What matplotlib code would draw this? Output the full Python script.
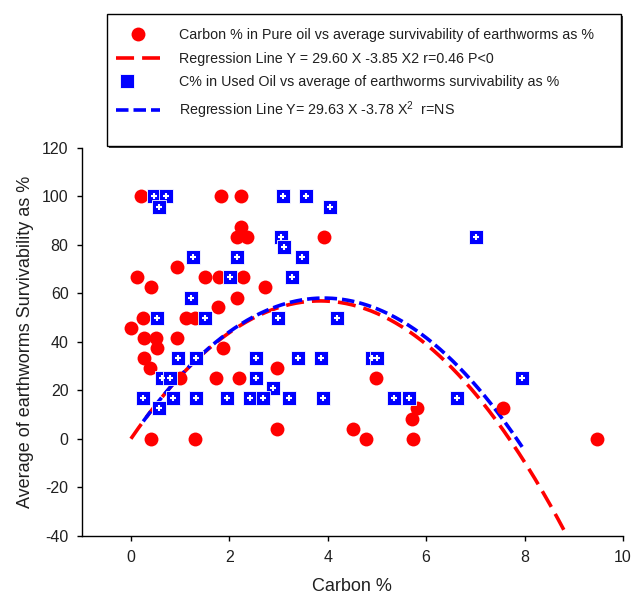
import numpy as np
import matplotlib
matplotlib.use("Agg")
import matplotlib.pyplot as plt
from matplotlib.lines import Line2D
from matplotlib.patches import Rectangle
from matplotlib.legend_handler import HandlerTuple

plt.rcParams['font.family'] = ['Liberation Sans', 'DejaVu Sans']
plt.rcParams['mathtext.fontset'] = 'custom'
plt.rcParams['mathtext.rm'] = 'Liberation Sans'
plt.rcParams['mathtext.it'] = 'Liberation Sans'
plt.rcParams['lines.scale_dashes'] = False
plt.rcParams['axes.unicode_minus'] = False

# ---- data ----
x_pure = [0.20, 1.84, 2.24, 2.23, 2.15, 2.36, 0.93, 0.13, 0.41, 1.51, 1.79, 2.27, 2.72, 2.15,
          1.77, 0.25, 1.11, 1.30, 0.00, 0.26, 0.51, 0.93, 0.53, 1.88, 0.26, 0.39, 2.96, 1.00,
          1.73, 2.20, 4.99, 0.41, 1.30, 2.96, 4.52, 4.78, 5.81, 5.71, 5.74, 7.57, 9.47, 3.92]
y_pure = [100, 100, 100, 87.5, 83.3, 83.3, 70.8, 66.7, 62.5, 66.7, 66.7, 66.7, 62.5, 58.3,
          54.2, 50, 50, 50, 45.8, 41.7, 41.7, 41.7, 37.5, 37.5, 33.3, 29.2, 29.2, 25,
          25, 25, 25, 0, 0, 4.2, 4.2, 0, 12.5, 8.3, 0, 12.5, 0, 83.3]

x_used = [0.47, 0.71, 0.57, 1.26, 2.15, 2.02, 1.23, 0.53, 1.51, 0.95, 1.32, 2.55, 0.64, 0.80,
          2.54, 2.89, 0.25, 0.86, 1.32, 1.96, 2.42, 2.68, 0.58, 3.10, 3.56, 4.04, 3.06, 3.12,
          3.47, 3.27, 2.98, 4.18, 3.39, 3.86, 4.90, 5.00, 3.22, 3.91, 5.35, 5.66, 7.01, 7.95, 6.62]
y_used = [100, 100, 95.8, 75, 75, 66.7, 58.3, 50, 50, 33.3, 33.3, 33.3, 25, 25,
          25, 20.8, 16.7, 16.7, 16.7, 16.7, 16.7, 16.7, 12.5, 100, 100, 95.8, 83.3, 79.2,
          75, 66.7, 50, 50, 33.3, 33.3, 33.3, 33.3, 16.7, 16.7, 16.7, 16.7, 83.3, 25, 16.7]

pure_coef = (29.60, -3.85)
used_coef = (29.63, -3.78)

labels = ["Carbon % in Pure oil vs average survivability of earthworms as %",
          "Regression Line Y = 29.60 X -3.85 X2 r=0.46 P<0",
          "C% in Used Oil vs average of earthworms survivability as %",
          "Regression Line Y= 29.63 X -3.78 X$^{2}$  r=NS"]

x_ticks = [0, 2, 4, 6, 8, 10]
y_ticks = [-40, -20, 0, 20, 40, 60, 80, 100, 120]

# ---- figure ----
W, H = 633, 596
fig = plt.figure(figsize=(W / 100, H / 100), dpi=100)
ax = fig.add_axes([81.7 / W, (H - 535.7) / H, (623 - 81.7) / W, (535.7 - 148) / H])

RED = '#FF0000'
BLUE = '#0000FF'
TXT = '#202020'

xr = np.linspace(min(x_pure), max(x_pure), 300)
yr = pure_coef[0] * xr + pure_coef[1] * xr ** 2
xb = np.linspace(min(x_used), max(x_used), 300)
yb = used_coef[0] * xb + used_coef[1] * xb ** 2

ax.plot(xr, yr, color=RED, lw=2.6, dashes=(13, 5.8), zorder=2)
ax.plot(xb, yb, color=BLUE, lw=2.6, dashes=(9, 3.6), zorder=2.5)

ax.plot(x_pure, y_pure, 'o', color=RED, ms=10, mec=RED, mew=0, zorder=3, linestyle='none')
ax.plot(x_used, y_used, 's', color=BLUE, ms=9.6, mec='white', mew=0.6, zorder=4, linestyle='none')
ax.plot(x_used, y_used, '+', color='white', ms=5, mew=1.5, zorder=5, linestyle='none')

ax.set_xlim(-1, 10)
ax.set_ylim(-40, 120)
ax.set_xticks(x_ticks)
ax.set_yticks(y_ticks)
ax.spines['top'].set_visible(False)
ax.spines['right'].set_visible(False)
for s in ('left', 'bottom'):
    ax.spines[s].set_linewidth(1.0)
ax.tick_params(axis='both', direction='out', length=3.5, width=1.0, labelsize=11.5, labelcolor=TXT)
ax.tick_params(axis='x', pad=7)
ax.tick_params(axis='y', pad=6)
ax.set_xlabel('Carbon %', fontsize=13, labelpad=9, color=TXT)
ax.set_ylabel('Average of earthworms Survivability as %', fontsize=13, labelpad=6, color=TXT)

# legend box with shadow
bx0, by_top, bx1, by_bot = 107, 14, 621, 146
fig.patches.append(Rectangle(((bx0 + 2) / W, (H - by_bot - 2) / H), (bx1 - bx0) / W, (by_bot - by_top) / H,
                             transform=fig.transFigure, facecolor='#404040', edgecolor='none', zorder=0))
fig.patches.append(Rectangle((bx0 / W, (H - by_bot) / H), (bx1 - bx0) / W, (by_bot - by_top) / H,
                             transform=fig.transFigure, facecolor='white', edgecolor='black', lw=1.0, zorder=1))

h_circle = Line2D([], [], marker='o', color=RED, ms=10, mew=0, linestyle='none')
h_red = Line2D([], [], color=RED, lw=2.6, dashes=(13, 5.8))
h_sq = (Line2D([], [], marker='s', color=BLUE, ms=9.6, mec='white', mew=0.6, linestyle='none'),
        Line2D([], [], marker='+', color='white', ms=5, mew=1.5, linestyle='none'))
h_blue = Line2D([], [], color=BLUE, lw=2.6, dashes=(9, 3.6))

leg = fig.legend([h_circle, h_red, h_sq, h_blue], labels,
                 loc='upper left', bbox_to_anchor=(116 / W, (H - 28) / H),
                 bbox_transform=fig.transFigure, frameon=False, fontsize=10.3,
                 handlelength=3.1, handletextpad=1.3, labelspacing=0.68,
                 borderpad=0, borderaxespad=0, labelcolor=TXT,
                 handler_map={tuple: HandlerTuple(ndivide=None, pad=0)})
leg.set_zorder(5)

fig.savefig('out.png', dpi=100)
